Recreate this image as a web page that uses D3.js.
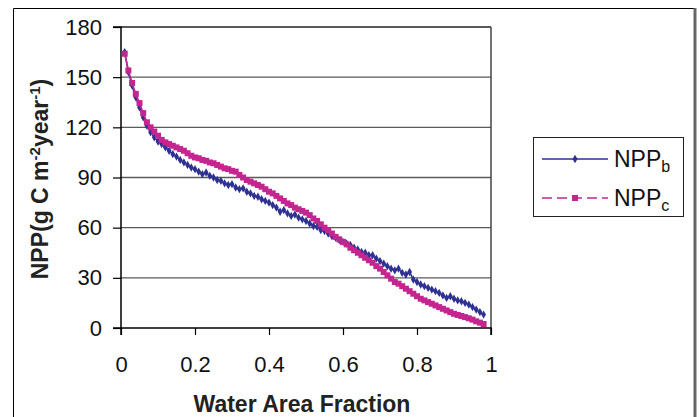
<!DOCTYPE html>
<html><head><meta charset="utf-8">
<script src="https://cdn.jsdelivr.net/npm/d3@7"></script>
<style>
html,body{margin:0;padding:0;background:#fff;}
svg{display:block;font-family:"Liberation Sans",Arial,sans-serif;}
</style></head>
<body>
<svg id="chart" width="699" height="417"></svg>
<script>
const xValues = [0.01,0.02,0.03,0.04,0.05,0.06,0.07,0.08,0.09,0.10,0.11,0.12,0.13,0.14,0.15,0.16,0.17,0.18,0.19,0.20,
0.21,0.22,0.23,0.24,0.25,0.26,0.27,0.28,0.29,0.30,0.31,0.32,0.33,0.34,0.35,0.36,0.37,0.38,0.39,0.40,
0.41,0.42,0.43,0.44,0.45,0.46,0.47,0.48,0.49,0.50,0.51,0.52,0.53,0.54,0.55,0.56,0.57,0.58,0.59,0.60,
0.61,0.62,0.63,0.64,0.65,0.66,0.67,0.68,0.69,0.70,0.71,0.72,0.73,0.74,0.75,0.76,0.77,0.78,0.79,0.80,
0.81,0.82,0.83,0.84,0.85,0.86,0.87,0.88,0.89,0.90,0.91,0.92,0.93,0.94,0.95,0.96,0.97,0.98];
const nppB = [165,153,145,138,132,126,121,117,114,111.5,110,108,106,104,102.5,100.5,99,97.5,96,95,
93.5,92,93,91,90,88.5,88,86.5,85.5,86,84,83,83.5,81.5,80.5,79,78.5,77,76,75,
73.5,72,69.5,70.5,68.5,67,67.8,66,65,64,62.5,61,60.5,58.6,58,56.5,55,54,52.5,51.5,
50.5,49.6,48,47,45.5,45,43.5,43.5,41.5,40,38.5,37,35.5,34.5,35.5,33,32,33.5,29,27.5,
26,25,24,23,22,21,19.5,18,19,17.5,16.5,16,15,14,12.5,11,9.5,8];
const nppC = [164,154,146.5,140,134.5,128.5,123,120,117.5,115,112.5,111,110,109,108,107,106,104.5,103,102,
101.5,100.5,100,99,98.5,97.5,96.5,95.5,95,94,93.5,91.5,90,88.5,87.5,86.5,85.5,84.5,83,81.5,
80.5,79,77.5,76,74.5,73.5,72,71,70,69,67.5,65.5,64,62,60,58.5,56.5,54.5,53,51.5,
50,48,46.5,45,43.5,42,40.5,39,37,35.5,33.5,31.5,29.5,27.5,26.5,25,23.5,22,20.5,19,
17.5,16.5,15.5,14.5,13.5,12.5,11.5,10.5,9.5,8.5,7.8,7.2,6.5,5.8,5,4,3.2,2.4];
const xTicks = [0,0.2,0.4,0.6,0.8,1];
const xTickLabels = ["0","0.2","0.4","0.6","0.8","1"];
const yTicks = [0,30,60,90,120,150,180];
const seriesNames = ["b","c"];

const colB = "#2E3192", colC = "#C4258F";
const svg = d3.select("#chart");

// outer frame
svg.append("line").attr("x1",13.5).attr("y1",8.5).attr("x2",694).attr("y2",8.5).attr("stroke","#000").attr("stroke-width",1);
svg.append("line").attr("x1",13.5).attr("y1",8.5).attr("x2",13.5).attr("y2",417).attr("stroke","#000").attr("stroke-width",1);
svg.append("line").attr("x1",695).attr("y1",8).attr("x2",695).attr("y2",417).attr("stroke","#666").attr("stroke-width",3);

const L=121, R=491, T=27, B=328;
const x = d3.scaleLinear().domain([0,1]).range([L,R]);
const y = d3.scaleLinear().domain([0,180]).range([B,T]);

// gridlines
svg.append("g").selectAll("line").data(yTicks.filter(d=>d>0 && d<180)).join("line")
  .attr("x1",L).attr("x2",R).attr("y1",d=>y(d)).attr("y2",d=>y(d))
  .attr("stroke","#5a5a5a").attr("stroke-width",1.3);

// plot border top/right
svg.append("line").attr("x1",L).attr("x2",R).attr("y1",T).attr("y2",T).attr("stroke","#222").attr("stroke-width",1.3);
svg.append("line").attr("x1",R).attr("x2",R).attr("y1",T).attr("y2",B).attr("stroke","#444").attr("stroke-width",1.5);

// axes
const yAxis = d3.axisLeft(y).tickValues(yTicks).tickSize(8).tickPadding(11);
const gy = svg.append("g").attr("transform",`translate(${L},0)`).call(yAxis);
const xAxis = d3.axisBottom(x).tickValues(xTicks).tickFormat((d,i)=>xTickLabels[i]).tickSize(7).tickPadding(21);
const gx = svg.append("g").attr("transform",`translate(0,${B})`).call(xAxis);
[gx,gy].forEach(g=>{
  g.select(".domain").attr("stroke","#000").attr("stroke-width",1.5);
  g.selectAll(".tick line").attr("stroke","#000").attr("stroke-width",1.2);
  g.selectAll("text").attr("font-family","Liberation Sans, Arial, sans-serif").attr("font-size",22).attr("fill","#111");
});
gy.select(".domain").attr("d",`M-8,${T}H0V${B}H-8`);
gx.select(".domain").attr("d",`M${L},7V0H${R}V7`);

// series
const ptsB = xValues.map((v,i)=>[v,nppB[i]]);
const ptsC = xValues.map((v,i)=>[v,nppC[i]]);
const line = d3.line().x(d=>x(d[0])).y(d=>y(d[1]));

svg.append("path").attr("d",line(ptsB)).attr("fill","none").attr("stroke",colB).attr("stroke-width",1.6);
svg.append("g").selectAll("path").data(ptsB).join("path")
  .attr("transform",d=>`translate(${x(d[0])},${y(d[1])})`)
  .attr("d",d3.symbol(d3.symbolDiamond,20)()).attr("fill",colB);

svg.append("path").attr("d",line(ptsC)).attr("fill","none").attr("stroke",colC).attr("stroke-width",1.6);
svg.append("g").selectAll("rect").data(ptsC).join("rect")
  .attr("x",d=>x(d[0])-3).attr("y",d=>y(d[1])-3).attr("width",6).attr("height",6).attr("fill",colC);

// axis titles
svg.append("text").attr("x",302).attr("y",412).attr("text-anchor","middle")
  .attr("font-weight","bold").attr("font-size",23).attr("fill","#222").text("Water Area Fraction");
const yt = svg.append("text").attr("transform","translate(48,179) rotate(-90)").attr("text-anchor","middle")
  .attr("font-weight","bold").attr("font-size",23).attr("fill","#222");
yt.append("tspan").text("NPP(g C m");
yt.append("tspan").attr("dy",-8).attr("font-size",15).text("-2");
yt.append("tspan").attr("dy",8).text("year");
yt.append("tspan").attr("dy",-8).attr("font-size",15).text("-1");
yt.append("tspan").attr("dy",8).text(")");

// legend
svg.append("rect").attr("x",533.5).attr("y",137.5).attr("width",150).attr("height",79)
  .attr("fill","#fff").attr("stroke","#222").attr("stroke-width",1);
const legY = [159,198];
const cols = [colB,colC];
seriesNames.forEach((s,i)=>{
  const ly = legY[i];
  svg.append("line").attr("x1",542).attr("x2",608).attr("y1",ly).attr("y2",ly)
    .attr("stroke",cols[i]).attr("stroke-width",1.6).attr("stroke-dasharray",i===1?"10,5":null);
  if(i===0){
    svg.append("path").attr("transform",`translate(575,${ly})`).attr("d",d3.symbol(d3.symbolDiamond,22)()).attr("fill",cols[i]);
  } else {
    svg.append("rect").attr("x",572).attr("y",ly-3).attr("width",6).attr("height",6).attr("fill",cols[i]);
  }
  const t = svg.append("text").attr("x",614).attr("y",ly+8).attr("font-size",23).attr("fill","#111");
  t.append("tspan").text("NPP");
  t.append("tspan").attr("dy",5).attr("font-size",16).text(s);
});
</script>
</body></html>
